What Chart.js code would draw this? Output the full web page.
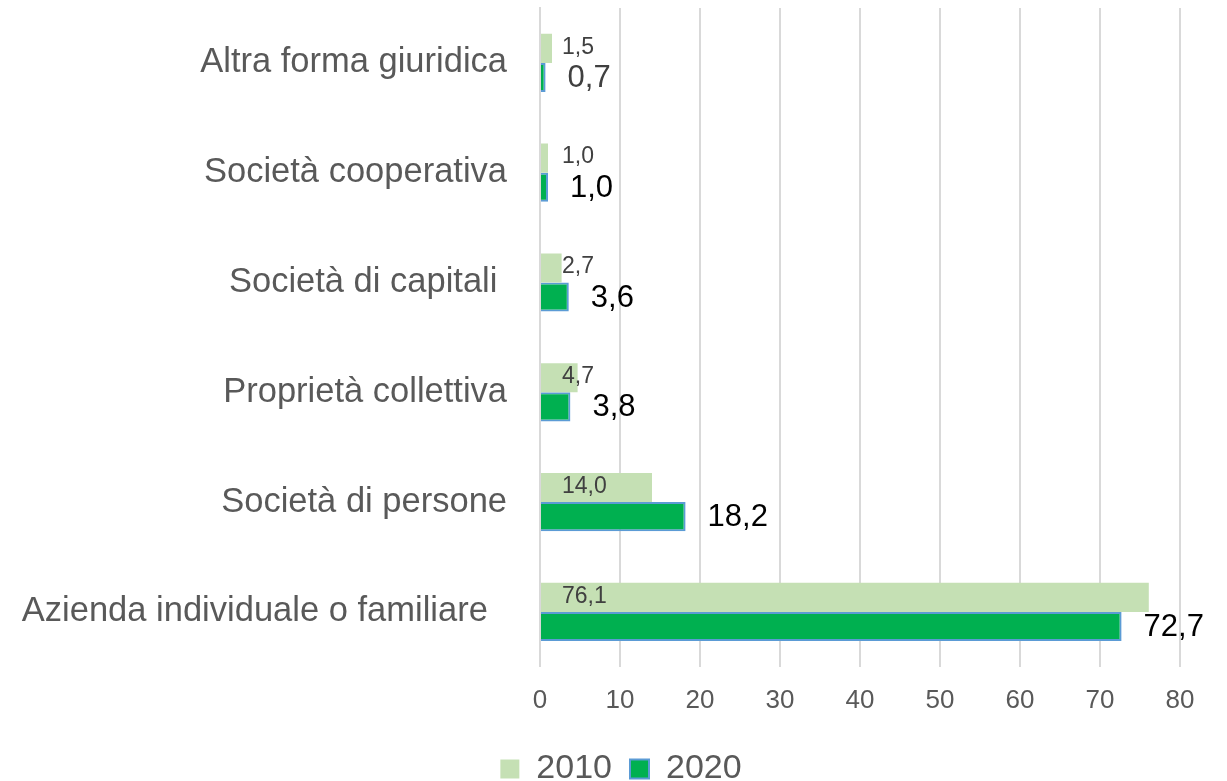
<!DOCTYPE html>
<html>
<head>
<meta charset="utf-8">
<script src="https://cdn.jsdelivr.net/npm/chart.js@4/dist/chart.umd.min.js"></script>
<style>
  html, body { margin: 0; padding: 0; background: #fff; }
  #wrap { width: 1227px; height: 781px; }
</style>
</head>
<body>
<div id="wrap"><canvas id="myChart" width="1227" height="781"></canvas></div>
<script>
// categories, top to bottom (trailing spaces as in the original labels)
let categories = ["Altra forma giuridica", "Società cooperativa", "Società di capitali ", "Proprietà collettiva", "Società di persone", "Azienda individuale o familiare  "];
let values2010 = [1.5, 1.0, 2.7, 4.7, 14.0, 76.1];
let values2020 = [0.7, 1.0, 3.6, 3.8, 18.2, 72.7];
let xTicks = [0, 10, 20, 30, 40, 50, 60, 70, 80];

function fmt(v) {
  return v.toFixed(1).replace(".", ",");
}

// value labels: 2010 sits near the bar base, 2020 after the bar end
let valueLabels = {
  id: "valueLabels",
  afterDatasetsDraw(chart) {
    let ctx = chart.ctx;
    let xScale = chart.scales.x;
    ctx.save();
    ctx.textBaseline = "middle";
    ctx.textAlign = "left";

    let meta0 = chart.getDatasetMeta(0);
    ctx.font = "23px 'Liberation Sans', Arial, sans-serif";
    ctx.fillStyle = "#404040";
    meta0.data.forEach(function (bar, i) {
      ctx.fillText(fmt(values2010[i]), xScale.getPixelForValue(0) + 22, bar.y - 1);
    });

    let meta1 = chart.getDatasetMeta(1);
    ctx.font = "31px 'Liberation Sans', Arial, sans-serif";
    meta1.data.forEach(function (bar, i) {
      ctx.fillStyle = i == 0 ? "#404040" : "#000";
      ctx.fillText(fmt(values2020[i]), bar.x + 22, bar.y + 1);
    });
    ctx.restore();
  }
};

let data = {
  labels: categories,
  datasets: [{
    label: "2010",
    data: values2010,
    backgroundColor: "#c5e0b4",
    borderWidth: 0
  }, {
    label: "2020",
    data: values2020,
    backgroundColor: "#00b050",
    borderColor: "#5b9bd5",
    borderWidth: 2
  }]
};

let options = {
  indexAxis: "y",
  responsive: false,
  animation: false,
  layout: {
    padding: { top: 8, right: 0, left: 15, bottom: -15 }
  },
  categoryPercentage: 0.53,
  barPercentage: 1,
  plugins: {
    legend: {
      display: true,
      position: "bottom",
      labels: {
        color: "#595959",
        font: { family: "'Liberation Sans', Arial, sans-serif", size: 34 },
        boxWidth: 19,
        boxHeight: 19,
        padding: 18
      }
    },
    tooltip: { enabled: false }
  },
  scales: {
    x: {
      min: 0,
      max: 80,
      afterBuildTicks: function (scale) {
        scale.ticks = xTicks.map(function (v) { return { value: v }; });
      },
      afterFit: function (scale) {
        scale.paddingRight = 47;
      },
      grid: { color: "#d9d9d9", lineWidth: 2, drawTicks: false },
      border: { display: false },
      ticks: {
        color: "#595959",
        font: { family: "'Liberation Sans', Arial, sans-serif", size: 26 },
        padding: 18
      }
    },
    y: {
      afterFit: function (scale) {
        scale.width = 525;
        scale.paddingTop = 0;
        scale.paddingBottom = 0;
      },
      grid: { display: false, drawTicks: false },
      border: { color: "#d9d9d9", width: 2 },
      ticks: {
        color: "#595959",
        font: { family: "'Liberation Sans', Arial, sans-serif", size: 34.5 },
        padding: 33
      }
    }
  }
};

let ctx = document.getElementById("myChart");
let chart1 = new Chart(ctx, {
  type: "bar",
  data: data,
  options: options,
  plugins: [valueLabels]
});
</script>
</body>
</html>
